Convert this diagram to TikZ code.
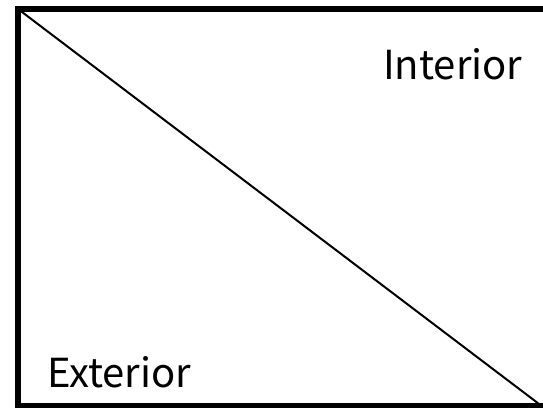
\documentclass[tikz,border=0pt]{standalone}
\usepackage{fontspec}
\setmainfont{Noto Sans CJK JP}
\begin{document}
\begin{tikzpicture}[x=1pt,y=1pt,
  lbl/.style={inner sep=0pt,anchor=base west,font=\fontsize{40}{48}\selectfont}]
\useasboundingbox (0,0) rectangle (543,411);
\clip (0,0) rectangle (543,411);
\coordinate (tl) at (18,402);
\coordinate (br) at (541,5.5);
\draw[line width=5.5pt] (18,402) rectangle (570,5.5);
\draw[line width=2pt] (tl) -- (br);
\node[lbl] (int) at (383,331) {Interior};
\node[lbl] (ext) at (47,23) {Exterior};
\end{tikzpicture}
\end{document}
